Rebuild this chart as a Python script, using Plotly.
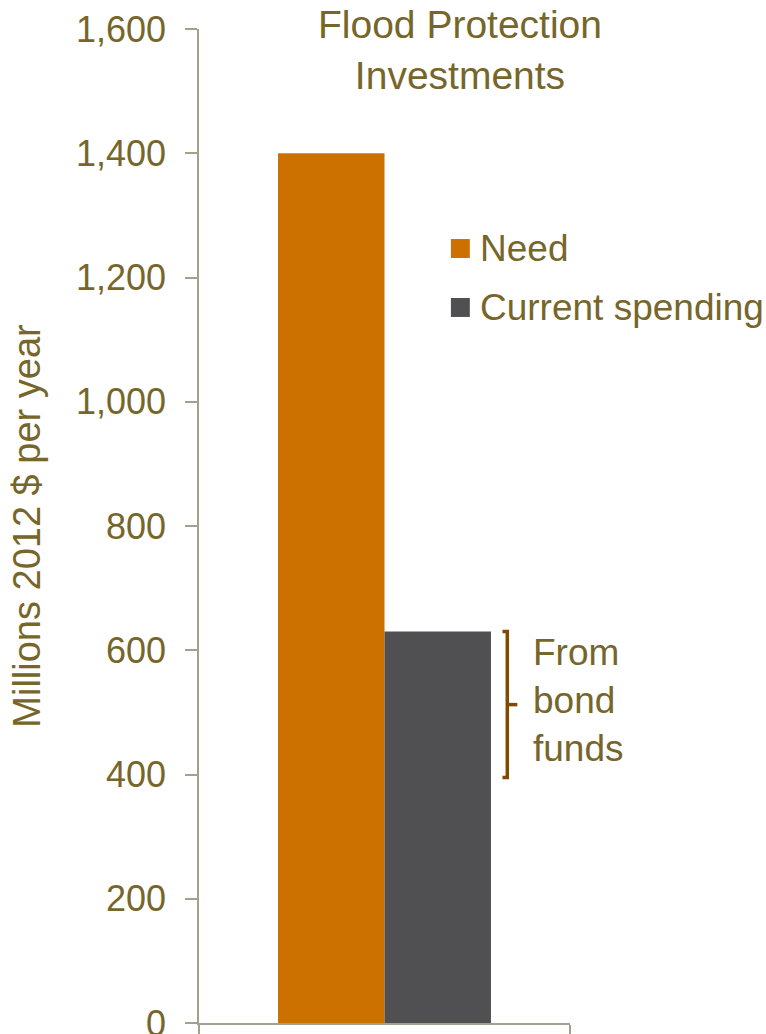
import plotly.graph_objects as go

# ---- data ----
categories = ["Flood protection"]
series_names = ["Need", "Current spending"]
need_values = [1400]
current_values = [630]
bond_range = [395, 630]          # portion of current spending from bond funds
y_ticks = [0, 200, 400, 600, 800, 1000, 1200, 1400, 1600]
title_text = "Flood Protection<br>Investments"
bracket_label = "From<br>bond<br>funds"
y_title = "Millions 2012 $ per year"

# ---- style ----
FONT = "Liberation Sans, Arial, sans-serif"
TEXT = "#76662A"
AXIS = "#A79F8E"
ORANGE = "#CC7000"
GRAY = "#505052"
BROWN = "#7F4A00"

fig = go.Figure()
fig.add_trace(go.Bar(x=categories, y=need_values, name=series_names[0],
                     marker=dict(color=ORANGE, line=dict(width=0)), showlegend=False))
fig.add_trace(go.Bar(x=categories, y=current_values, name=series_names[1],
                     marker=dict(color=GRAY, line=dict(width=0)), showlegend=False))

shapes = []
# bracket for bond funds
lo, hi = bond_range
mid = (lo + hi) / 2
xb, xs, xm = 0.831, 0.818, 0.858
shapes.append(dict(type="path", xref="paper", yref="y",
                   path=f"M {xs},{hi} L {xb},{hi} L {xb},{lo} L {xs},{lo}",
                   line=dict(color=BROWN, width=3.5)))
shapes.append(dict(type="line", xref="paper", yref="y", x0=xb, x1=xm, y0=mid, y1=mid,
                   line=dict(color=BROWN, width=3.5)))

# legend swatches (manual, to match large swatch size)
legend_rows = [(0.7887, 0.7696, ORANGE), (0.7294, 0.7103, GRAY)]
for (top, bot, col) in legend_rows:
    shapes.append(dict(type="rect", xref="paper", yref="paper",
                       x0=0.679, x1=0.730, y0=bot, y1=top,
                       fillcolor=col, line=dict(width=0)))

annotations = []
for name, (top, bot, col) in zip(series_names, legend_rows):
    annotations.append(dict(text=name, xref="paper", yref="paper",
                            x=0.753, y=(top + bot) / 2, xanchor="left", yanchor="middle",
                            showarrow=False, font=dict(family=FONT, size=37, color=TEXT)))
annotations.append(dict(text=bracket_label, xref="paper", yref="y",
                        x=0.895, y=mid + 6, xanchor="left", yanchor="middle", align="left",
                        showarrow=False, font=dict(family=FONT, size=37, color=TEXT)))
annotations.append(dict(text=title_text, xref="paper", yref="paper",
                        x=0.703, y=1.028, xanchor="center", yanchor="top", align="center",
                        showarrow=False, font=dict(family=FONT, size=39, color=TEXT)))

fig.update_layout(
    width=766, height=1034,
    margin=dict(l=199, r=196, t=29, b=11, pad=0, autoexpand=False),
    paper_bgcolor="white", plot_bgcolor="white",
    barmode="group", bargap=0.426, bargroupgap=0,
    font=dict(family=FONT, color=TEXT, size=37),
    shapes=shapes, annotations=annotations,
    showlegend=False,
)
fig.update_xaxes(showline=True, linecolor=AXIS, linewidth=1.5, automargin=False,
                 ticks="outside", tickson="boundaries", ticklen=14, tickcolor=AXIS, tickwidth=1.5,
                 showticklabels=False, showgrid=False, zeroline=False)
fig.update_yaxes(range=[0, 1600], tickvals=y_ticks, tickformat=",", automargin=False,
                 showline=True, linecolor=AXIS, linewidth=1.5,
                 ticks="outside", ticklen=12, tickcolor=AXIS, tickwidth=1.5,
                 ticklabelstandoff=12, ticklabeloverflow="allow",
                 tickfont=dict(family=FONT, size=36, color=TEXT),
                 showgrid=False, zeroline=False,
                 title=dict(text=y_title, font=dict(family=FONT, size=38, color=TEXT), standoff=24))

fig.write_html("out.html", config={"displayModeBar": False},
               post_script="document.body.style.margin='0';document.body.style.overflow='hidden';")
